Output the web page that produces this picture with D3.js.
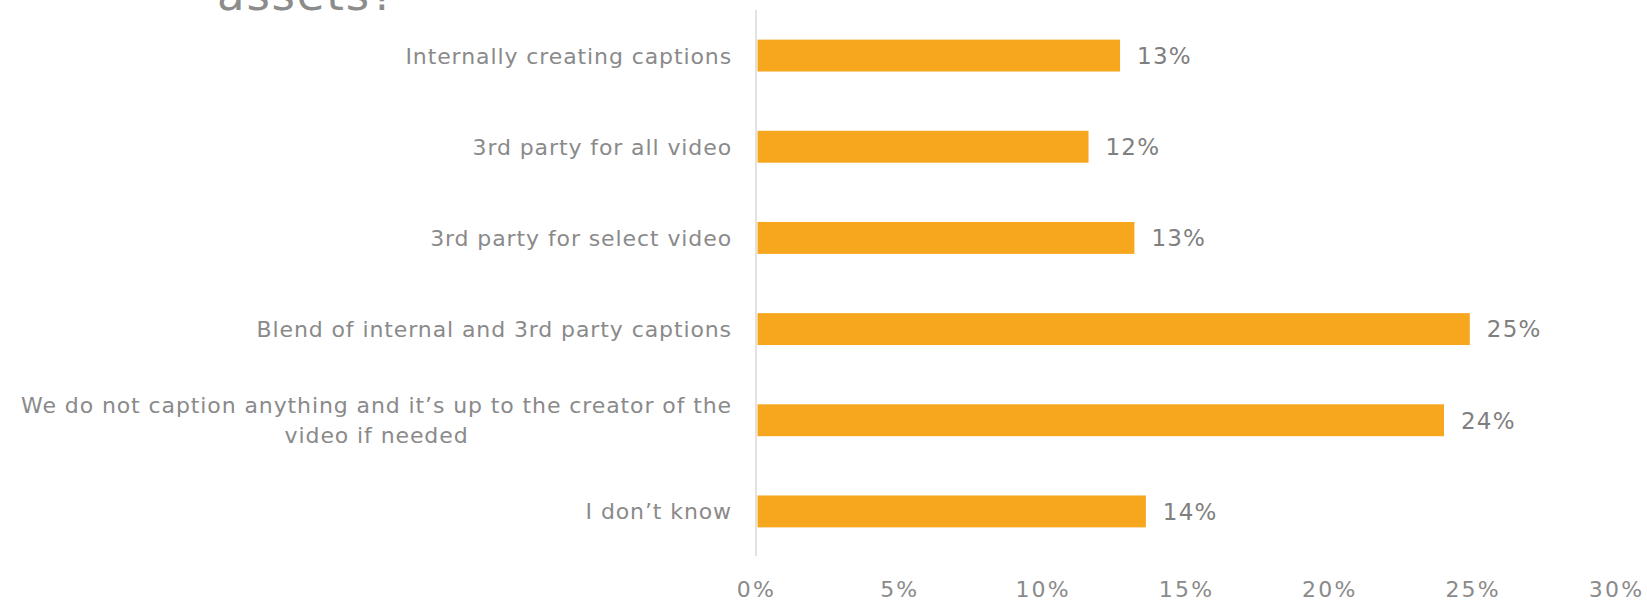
<!DOCTYPE html>
<html>
<head>
<meta charset="utf-8">
<script src="https://cdn.jsdelivr.net/npm/d3@7"></script>
<style>
  html, body { margin: 0; padding: 0; background: #ffffff; }
  svg { display: block; }
  text { font-family: "DejaVu Sans", sans-serif; }
</style>
</head>
<body>
<svg id="chart" width="1647" height="601"></svg>
<script>
// Survey answers, top to bottom ("\n" marks a line break in the label)
const categories = [
  "Internally creating captions",
  "3rd party for all video",
  "3rd party for select video",
  "Blend of internal and 3rd party captions",
  "We do not caption anything and it\u2019s up to the creator of the\nvideo if needed",
  "I don\u2019t know"
];
// Share of respondents per answer
const shares = [0.127, 0.116, 0.132, 0.249, 0.240, 0.136];
// Horizontal axis ticks
const xTicks = [0, 0.05, 0.10, 0.15, 0.20, 0.25, 0.30];
const titleTail = "assets?";

const svg = d3.select("#chart");
const plotLeft = 756, plotRight = 1616, plotTop = 10, plotBottom = 557;

const x = d3.scaleLinear().domain([0, 0.30]).range([plotLeft, plotRight]);
const y = d3.scaleBand().domain(categories).range([plotTop, plotBottom])
  .paddingInner(0.65).paddingOuter(0.325);

const textColor = "#8a8a8a";
const barColor = "#F7A71E";

// Tail of the chart title (its first line sits above the canvas)
svg.append("text")
  .attr("x", 217).attr("y", 10)
  .attr("font-size", 45)
  .attr("letter-spacing", 1.8)
  .attr("fill", "#8c8c8c")
  .text(titleTail);

// Vertical category axis line
svg.append("line")
  .attr("x1", plotLeft).attr("x2", plotLeft)
  .attr("y1", plotTop).attr("y2", plotBottom - 1)
  .attr("stroke", "#d9d9d9").attr("stroke-width", 1.5);

// Bars
svg.selectAll("rect.bar").data(categories).join("rect")
  .attr("class", "bar")
  .attr("x", x(0) + 1.5)
  .attr("y", d => y(d))
  .attr("width", (d, i) => x(shares[i]) - x(0) - 1.5)
  .attr("height", y.bandwidth())
  .attr("fill", barColor);

// Value labels
const pct = d3.format(".0%");
svg.selectAll("text.val").data(categories).join("text")
  .attr("class", "val")
  .attr("x", (d, i) => x(shares[i]) + 17)
  .attr("y", d => y(d) + y.bandwidth() / 2)
  .attr("dy", "0.36em")
  .attr("font-size", 23)
  .attr("letter-spacing", 1.2)
  .attr("fill", "#7f7f7f")
  .text((d, i) => pct(shares[i]));

// Category labels, right-aligned block with centred lines
const labelSize = 22, lineH = 30, labelRight = 732, labelSpacing = 0.9;
const catG = svg.append("g");
const probe = catG.append("text").attr("font-size", labelSize)
  .attr("letter-spacing", labelSpacing).attr("visibility", "hidden");
const measure = s => { probe.text(s); return probe.node().getComputedTextLength(); };

categories.forEach(c => {
  const lines = c.split("\n");
  const blockW = d3.max(lines, measure);
  const cx = labelRight - blockW / 2;
  const cy = y(c) + y.bandwidth() / 2;
  const t = catG.append("text")
    .attr("text-anchor", "middle")
    .attr("font-size", labelSize)
    .attr("letter-spacing", labelSpacing)
    .attr("fill", textColor);
  lines.forEach((l, k) => {
    t.append("tspan")
      .attr("x", cx)
      .attr("y", cy + (k - (lines.length - 1) / 2) * lineH)
      .attr("dy", "0.36em")
      .text(l);
  });
});
probe.remove();

// Bottom value axis (labels only)
const xAxis = d3.axisBottom(x).tickValues(xTicks).tickFormat(d3.format(".0%")).tickSize(0).tickPadding(0);
const ax = svg.append("g").attr("transform", "translate(0,581)").call(xAxis);
ax.select(".domain").remove();
ax.selectAll("text")
  .attr("font-size", 22)
  .attr("letter-spacing", 2.2)
  .attr("fill", "#8a8a8a")
  .attr("font-family", "DejaVu Sans, sans-serif")
  .attr("dy", "0.72em");
</script>
</body>
</html>
